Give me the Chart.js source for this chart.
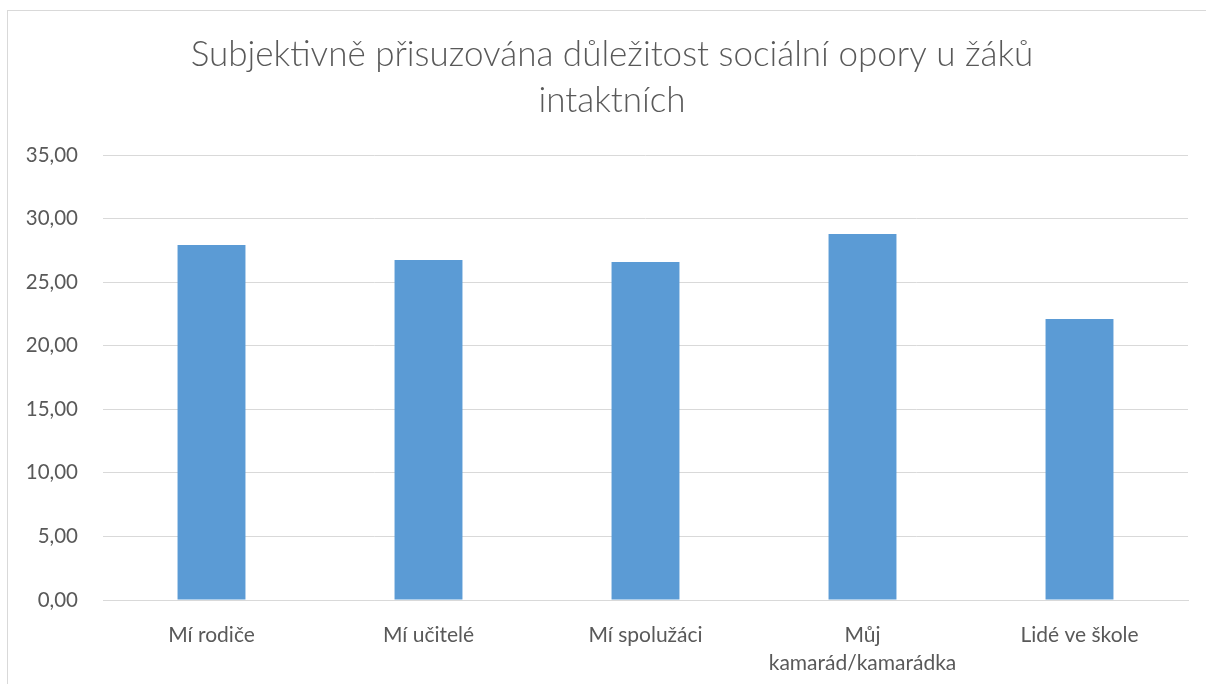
<!DOCTYPE html>
<html>
<head>
<meta charset="utf-8">
<script src="https://cdn.jsdelivr.net/npm/chart.js@4"></script>
<style>
  body { margin: 0; background: #fff; overflow: hidden; }
  #frame { position: absolute; left: 7px; top: 10px; width: 1210px; height: 700px; border: 1px solid #d9d9d9; }
  #wrap { position: absolute; left: 0; top: 0; width: 1206px; height: 684px; }
</style>
</head>
<body>
<div id="frame"></div>
<div id="wrap"><canvas id="barChart"></canvas></div>
<script>
const categories = ['Mí rodiče', 'Mí učitelé', 'Mí spolužáci', ['Můj', 'kamarád/kamarádka'], 'Lidé ve škole']
const values = [27.92, 26.74, 26.58, 28.79, 22.10]
const titleLines = ['Subjektivně přisuzována důležitost sociální opory u žáků', 'intaktních']

const textColor = '#595959'

// nudge the title so it is centred like in the original
const shiftTitle = {
  id: 'shiftTitle',
  afterLayout (chart) {
    if (chart.titleBlock) chart.titleBlock.left = 36
  }
}

new Chart(document.getElementById('barChart').getContext('2d'), {
  type: 'bar',
  data: {
    labels: categories,
    datasets: [
      {
        data: values,
        backgroundColor: '#5B9BD5',
        borderWidth: 0,
        barPercentage: 0.313,
        categoryPercentage: 1
      }
    ]
  },
  plugins: [shiftTitle],
  options: {
    responsive: true,
    maintainAspectRatio: false,
    animation: false,
    layout: { padding: { left: 0, right: 18, top: 0, bottom: 0 } },
    plugins: {
      legend: { display: false },
      tooltip: { enabled: false },
      title: {
        display: true,
        text: titleLines,
        color: textColor,
        font: { family: 'Lato', size: 35, weight: '300', lineHeight: 1.3 },
        padding: { top: 32, bottom: 32 }
      }
    },
    scales: {
      x: {
        grid: { display: false },
        border: { color: '#d9d9d9', width: 1 },
        ticks: {
          color: textColor,
          font: { family: 'Lato', size: 21, lineHeight: 1.3 },
          padding: 14,
          maxRotation: 0,
          autoSkip: false
        },
        afterFit: (scale) => { scale.height = 84 }
      },
      y: {
        min: 0,
        max: 35,
        grid: { color: '#d9d9d9', lineWidth: 1, drawTicks: false },
        border: { display: false },
        ticks: {
          stepSize: 5,
          color: textColor,
          font: { family: 'Lato', size: 20.5 },
          padding: 25,
          callback: (v) => v.toFixed(2).replace('.', ',')
        },
        afterFit: (scale) => { scale.width = 103 }
      }
    }
  }
})
</script>
</body>
</html>
